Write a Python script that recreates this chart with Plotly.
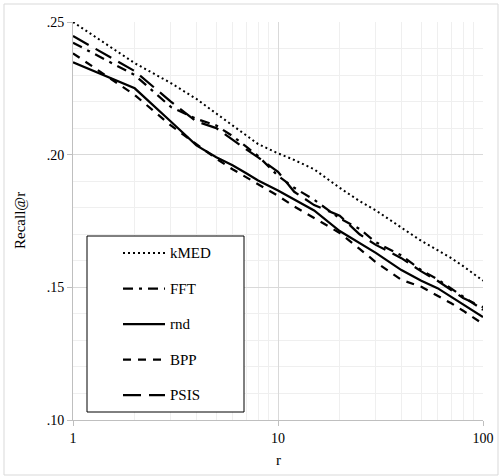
import plotly.graph_objects as go

r_vals = [1, 2, 3, 4, 5, 6, 7, 8, 10, 12, 15, 20, 25, 30, 40, 50, 60, 70, 80, 100]

kmed = [.2500, .2345, .2270, .2210, .2155, .2110, .2070, .2040, .2005, .1980, .1945, .1875,
        .1825, .1790, .1725, .1675, .1640, .1610, .1580, .1525]
fft = [.2422, .2300, .2180, .2135, .2110, .2070, .2030, .1995, .1920, .1875, .1830, .1760,
       .1720, .1670, .1620, .1565, .1530, .1495, .1465, .1415]
rnd = [.2348, .2250, .2125, .2035, .1990, .1960, .1930, .1903, .1865, .1830, .1790, .1712,
       .1668, .1630, .1565, .1525, .1497, .1465, .1435, .1388]
bpp = [.2382, .2225, .2110, .2040, .1985, .1945, .1915, .1890, .1845, .1805, .1760, .1705,
       .1645, .1595, .1528, .1502, .1468, .1440, .1412, .1362]
psis = [.2447, .2315, .2200, .2125, .2100, .2055, .2020, .1990, .1935, .1860, .1810, .1770,
        .1700, .1660, .1610, .1560, .1525, .1490, .1460, .1425]

series_names = ["kMED", "FFT", "rnd", "BPP", "PSIS"]
series_vals = [kmed, fft, rnd, bpp, psis]
dashes = ["2px,3px", "10px,6px,3px,6px", "solid", "8px,7px", "18px,8px"]
widths = [2, 2.25, 2.25, 2.25, 2.25]

y_tickvals = [0.10, 0.15, 0.20, 0.25]
y_ticktext = [".10", ".15", ".20", ".25"]
x_tickvals = [1, 10, 100]
x_ticktext = ["1", "10", "100"]

FONT = "Liberation Serif"

fig = go.Figure()
for name, vals, d, w in zip(series_names, series_vals, dashes, widths):
    fig.add_trace(go.Scatter(x=r_vals, y=vals, mode="lines", name=name,
                             line=dict(color="black", width=w, dash=d),
                             showlegend=False))

# plot area geometry in px
L, R, T, B = 73, 483, 22, 420
W, H = R - L, B - T


def px_x(p):
    return (p - L) / W


def px_y(p):
    return (B - p) / H


shapes = []
# outer border
shapes.append(dict(type="rect", xref="paper", yref="paper",
                   x0=px_x(4), x1=px_x(498), y0=px_y(475), y1=px_y(4),
                   line=dict(color="#d9d9d9", width=1), layer="below"))
# legend box
shapes.append(dict(type="rect", xref="paper", yref="paper",
                   x0=px_x(87), x1=px_x(244), y0=px_y(412), y1=px_y(236),
                   line=dict(color="black", width=1), fillcolor="white"))
annotations = []
item_y = [253, 288.5, 324, 359.5, 395]
for name, d, w, yy in zip(series_names, dashes, widths, item_y):
    shapes.append(dict(type="line", xref="paper", yref="paper",
                       x0=px_x(123), x1=px_x(165), y0=px_y(yy), y1=px_y(yy),
                       line=dict(color="black", width=w, dash=d)))
    annotations.append(dict(x=px_x(168), y=px_y(yy), xref="paper", yref="paper",
                            text=name, showarrow=False, xanchor="left", yanchor="middle",
                            font=dict(family=FONT, size=15, color="black")))

annotations.append(dict(x=0.5, y=px_y(460), xref="paper", yref="paper", text="r",
                        showarrow=False, xanchor="center", yanchor="middle",
                        font=dict(family=FONT, size=15, color="black")))
annotations.append(dict(x=px_x(20), y=0.5, xref="paper", yref="paper", text="Recall@r",
                        showarrow=False, xanchor="center", yanchor="middle", textangle=-90,
                        font=dict(family=FONT, size=15, color="black")))

fig.update_layout(
    width=500, height=476,
    margin=dict(l=L, r=500 - R, t=T, b=476 - B, pad=0, autoexpand=False),
    paper_bgcolor="white", plot_bgcolor="white",
    font=dict(family=FONT, size=14, color="black"),
    shapes=shapes, annotations=annotations,
    showlegend=False,
)
fig.update_xaxes(type="log", range=[0, 2], tickvals=x_tickvals, ticktext=x_ticktext,
                 automargin=False,
                 showgrid=True, gridcolor="#d9d9d9", gridwidth=1,
                 minor=dict(tickvals=[2, 3, 4, 5, 6, 7, 8, 9, 20, 30, 40, 50, 60, 70, 80, 90],
                            showgrid=True, gridcolor="#efefef", gridwidth=1, ticks=""),
                 showline=True, linecolor="#bfbfbf", linewidth=1,
                 ticks="outside", ticklen=5, tickcolor="#bfbfbf",
                 tickfont=dict(family=FONT, size=14, color="black"), zeroline=False)
fig.update_yaxes(range=[0.10, 0.25], tickvals=y_tickvals, ticktext=y_ticktext,
                 automargin=False,
                 showgrid=True, gridcolor="#d9d9d9", gridwidth=1,
                 minor=dict(dtick=0.01, showgrid=True, gridcolor="#efefef", gridwidth=1, ticks=""),
                 showline=True, linecolor="#bfbfbf", linewidth=1,
                 ticks="outside", ticklen=5, tickcolor="#bfbfbf",
                 tickfont=dict(family=FONT, size=14, color="black"), zeroline=False)

fig.write_html("out.html", config={"displayModeBar": False},
               post_script="document.body.style.margin='0';")
